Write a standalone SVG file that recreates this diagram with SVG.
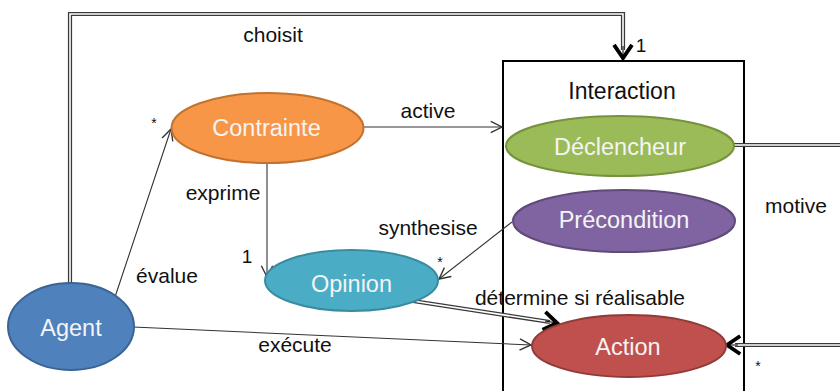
<svg xmlns="http://www.w3.org/2000/svg" width="840" height="391" viewBox="0 0 840 391">
<defs>
<style>
.lbl{font-family:"Liberation Sans",Arial,sans-serif;font-size:21px;fill:#111;text-anchor:middle}
.ntx{font-family:"Liberation Sans",Arial,sans-serif;font-size:23.5px;fill:#f4f4f4;text-anchor:middle}
.star{font-family:"Liberation Sans",Arial,sans-serif;font-size:14px;fill:#111;text-anchor:middle}
.thin{fill:none;stroke:#333;stroke-width:1.1}
.dblo{fill:none;stroke:#3a3a3a;stroke-width:4.2}
.dbli{fill:none;stroke:#fff;stroke-width:1.6}
.node{stroke-width:2}
</style>
<marker id="open" markerUnits="userSpaceOnUse" markerWidth="20" markerHeight="20" viewBox="-12 -8 14 16" refX="0" refY="0" orient="auto">
<path d="M-9,-4.5 L0,0 L-9,4.5" fill="none" stroke="#333" stroke-width="1.1"/>
</marker>
<marker id="heavy" markerUnits="userSpaceOnUse" markerWidth="24" markerHeight="24" viewBox="-14 -10 17 20" refX="0" refY="0" orient="auto">
<path d="M-11,-7.5 L0,0 L-11,7.5" fill="none" stroke="#000" stroke-width="3.2" stroke-linejoin="miter"/>
</marker>
</defs>
<rect width="840" height="391" fill="#fff"/>

<g id="interaction">
<rect x="503" y="61" width="241" height="345" fill="none" stroke="#000" stroke-width="2"/>
<text class="lbl" x="622" y="99" style="font-size:23px">Interaction</text>
</g>

<g id="connectors">
<g id="choisit">
<path class="dblo" d="M70,283 V14 H623 V50"/>
<path class="dbli" d="M70,283 V14 H623 V50"/>
<path d="M623,46 V58" fill="none" stroke="#000" stroke-width="1" marker-end="url(#heavy)"/>
</g>
<g id="motive">
<path class="dblo" d="M734,145 H845 M845,345 H735"/>
<path class="dbli" d="M734,145 H845 M845,345 H735"/>
<path d="M738,345 H727" fill="none" stroke="#000" stroke-width="1" marker-end="url(#heavy)"/>
</g>
<g id="determine">
<path class="dblo" d="M413,301 L550,322"/>
<path class="dbli" d="M413,301 L550,322"/>
<path d="M545,321 L557,323" fill="none" stroke="#000" stroke-width="1" marker-end="url(#heavy)"/>
</g>
<path class="thin" d="M115,297 L171,129" marker-end="url(#open)"/>
<path class="thin" d="M133,327 L531,345" marker-end="url(#open)"/>
<path class="thin" d="M364,127 L502,127" marker-end="url(#open)"/>
<path class="thin" d="M267,163 V277" marker-end="url(#open)"/>
<path class="thin" d="M512,222 L439,279" marker-end="url(#open)"/>
</g>

<g id="labels">
<text class="lbl" x="273" y="42">choisit</text>
<text class="lbl" x="641" y="52" style="font-size:19px">1</text>
<text class="lbl" x="428" y="118">active</text>
<text class="lbl" x="223" y="200">exprime</text>
<text class="lbl" x="428" y="235">synthesise</text>
<text class="lbl" x="796" y="213">motive</text>
<text class="lbl" x="247" y="263" style="font-size:19px">1</text>
<text class="lbl" x="167" y="283">évalue</text>
<text class="lbl" x="580" y="305">détermine si réalisable</text>
<text class="lbl" x="295" y="352">exécute</text>
<text class="star" x="154" y="128">*</text>
<text class="star" x="440" y="267">*</text>
<text class="star" x="758" y="371">*</text>
</g>

<g id="contrainte">
<ellipse class="node" cx="267.5" cy="128" rx="96" ry="35" fill="#F79646" stroke="#C0732F"/>
<text class="ntx" x="266.5" y="136">Contrainte</text>
</g>
<g id="declencheur">
<ellipse class="node" cx="620" cy="146" rx="114" ry="30" fill="#9BBB59" stroke="#76923C"/>
<text class="ntx" x="620" y="155">Déclencheur</text>
</g>
<g id="precondition">
<ellipse class="node" cx="624" cy="221" rx="111" ry="31" fill="#8064A2" stroke="#5F4A7A"/>
<text class="ntx" x="624" y="228">Précondition</text>
</g>
<g id="opinion">
<ellipse class="node" cx="351.5" cy="280.5" rx="86.5" ry="30.5" fill="#4BACC6" stroke="#3A8AA0"/>
<text class="ntx" x="351.5" y="292">Opinion</text>
</g>
<g id="action">
<ellipse class="node" cx="629" cy="346" rx="97" ry="31" fill="#C0504D" stroke="#913B39"/>
<text class="ntx" x="628" y="355">Action</text>
</g>
<g id="agent">
<ellipse class="node" cx="71" cy="326.5" rx="63" ry="43.5" fill="#4F81BD" stroke="#3A6494"/>
<text class="ntx" x="71" y="336">Agent</text>
</g>
</svg>
